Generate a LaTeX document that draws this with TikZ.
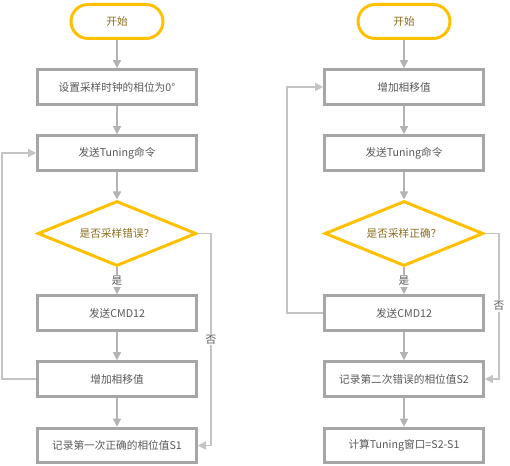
\documentclass[tikz,border=0pt]{standalone}
\usepackage{fontspec}
\setmainfont{Noto Sans CJK SC}
\usetikzlibrary{shapes.geometric,arrows.meta}
\definecolor{boxgray}{HTML}{A6A6A6}
\definecolor{linegray}{HTML}{B3B3B3}
\definecolor{loopgray}{HTML}{C4C4C4}
\definecolor{flowyellow}{HTML}{FFC000}
\definecolor{textgray}{HTML}{595959}
\definecolor{textbrown}{HTML}{8C6D1F}

\begin{document}
\begin{tikzpicture}[
		x=0.75pt,y=-0.75pt,
		every node/.style={font=\fontsize{8}{10}\selectfont,inner sep=1pt},
		stepbox/.style={draw=boxgray,line width=2.25pt,fill=white,text=textgray,
			minimum width=119pt,minimum height=26pt},
		terminal/.style={draw=flowyellow,line width=2.25pt,fill=white,text=textbrown,
			rounded corners=12.75pt,minimum width=69pt,minimum height=25.5pt},
		decision/.style={diamond,draw=flowyellow,line width=2.25pt,fill=white,text=textbrown,
			aspect=2.45,inner sep=0pt,minimum width=119pt,minimum height=48.75pt},
		flow/.style={-{Triangle[width=6pt,length=6pt]},line width=1.1pt,linegray},
		loop/.style={-{Triangle[width=6pt,length=6pt]},line width=1.1pt,loopgray},
		edge label/.style={fill=white,text=textgray,inner sep=1pt}
		]
		\useasboundingbox (0,0) rectangle (510,466);

		% left flow
		\node[terminal] (ls)  at (117,21.5)  {开始};
		\node[stepbox]  (l1)  at (117,87)    {设置采样时钟的相位为0°};
		\node[stepbox]  (l2)  at (117,153)   {发送Tuning命令};
		\node[decision] (ld)  at (117,233.5) {是否采样错误？};
		\node[stepbox]  (l3)  at (117,313)   {发送CMD12};
		\node[stepbox]  (l4)  at (117,379)   {增加相移值};
		\node[stepbox]  (l5)  at (117,445.5) {记录第一次正确的相位值S1};

		\draw[flow] (ls) -- (l1);
		\draw[flow] (l1) -- (l2);
		\draw[flow] (l2) -- (ld);
		\draw[flow] (ld) -- node[edge label] {是} (l3);
		\draw[flow] (l3) -- (l4);
		\draw[flow] (l4) -- (l5);
		\draw[loop] (ld.east) -- ++(13,0) |- node[edge label,pos=0.25] {否} (l5.east);
		\draw[loop] (l4.west) -- ++(-34,0) |- (l2.west);

		% right flow
		\node[terminal] (rs)  at (404,21.5)  {开始};
		\node[stepbox]  (r1)  at (404,87)    {增加相移值};
		\node[stepbox]  (r2)  at (404,153)   {发送Tuning命令};
		\node[decision] (rd)  at (404,233.5) {是否采样正确？};
		\node[stepbox]  (r3)  at (404,313)   {发送CMD12};
		\node[stepbox]  (r4)  at (404,379)   {记录第二次错误的相位值S2};
		\node[stepbox]  (r5)  at (404,445.5) {计算Tuning窗口=S2-S1};

		\draw[flow] (rs) -- (r1);
		\draw[flow] (r1) -- (r2);
		\draw[flow] (r2) -- (rd);
		\draw[flow] (rd) -- node[edge label] {是} (r3);
		\draw[flow] (r3) -- (r4);
		\draw[flow] (r4) -- (r5);
		\draw[loop] (rd.east) -- ++(14,0) |- node[edge label,pos=0.25] {否} (r4.east);
		\draw[loop] (r3.west) -- ++(-36,0) |- (r1.west);
	\end{tikzpicture}
\end{document}
